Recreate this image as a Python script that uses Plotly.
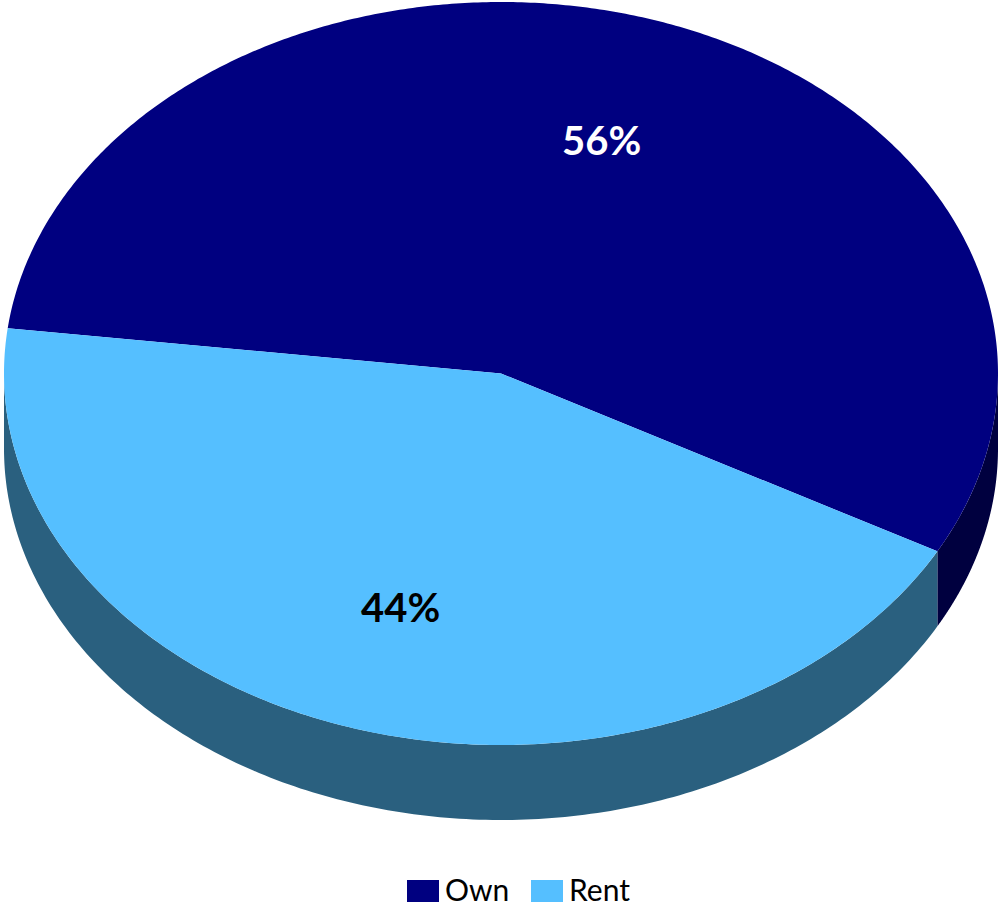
import numpy as np
import plotly.graph_objects as go

# ---- data ----
labels = ["Own", "Rent"]
values = [56, 44]
top_colors = ["#000080", "#55BFFF"]
side_colors = ["#00003F", "#2A607F"]
label_colors = ["white", "black"]

# ---- geometry (pixel-like axis units) ----
W, H = 999, 908
CX, CY = 501.0, 373.5
RX, RY = 497.0, 371.5
DEPTH = 75.0
START = 173.0  # degrees, ellipse parameter angle where the first slice starts
LABEL_R = 0.66
LEG_Y = 891.0
LEG_SWATCH_X = [407, 531]
LEG_SW_W, LEG_SW_H = 32, 22


def pt(t_deg, dy=0.0):
    t = np.radians(t_deg)
    return CX + RX * np.cos(t), CY - RY * np.sin(t) + dy


fig = go.Figure()
total = float(sum(values))
spans = []
a = START
for v in values:
    sweep = v / total * 360.0
    spans.append((a, a - sweep))  # clockwise
    a -= sweep

# side walls (visible front half: parameter angle in [-180, 0])
for (a0, a1), sc in zip(spans, side_colors):
    lo, hi = a1, a0
    segs = []
    for shift in (-360, 0, 360):
        l = max(lo + shift, -180)
        h = min(hi + shift, 0)
        if h > l:
            segs.append((l, h))
    for l, h in segs:
        ts = np.linspace(h, l, 200)
        xs_top, ys_top = pt(ts)
        xs_bot, ys_bot = pt(ts[::-1], DEPTH)
        xs = np.concatenate([xs_top, xs_bot, xs_top[:1]])
        ys = np.concatenate([ys_top, ys_bot, ys_top[:1]])
        fig.add_trace(go.Scatter(x=xs, y=ys, mode="none", fill="toself",
                                 fillcolor=sc, hoverinfo="skip",
                                 showlegend=False))

# top faces
for (a0, a1), lab, tc in zip(spans, labels, top_colors):
    ts = np.linspace(a0, a1, 400)
    xs, ys = pt(ts)
    xs = np.concatenate([[CX], xs, [CX]])
    ys = np.concatenate([[CY], ys, [CY]])
    fig.add_trace(go.Scatter(x=xs, y=ys, mode="none", fill="toself",
                             fillcolor=tc, name=lab, hoverinfo="name",
                             showlegend=False))

# percentage labels
for (a0, a1), v, lc in zip(spans, values, label_colors):
    mid = np.radians((a0 + a1) / 2.0)
    x = CX + LABEL_R * RX * np.cos(mid)
    y = CY - LABEL_R * RY * np.sin(mid)
    fig.add_annotation(x=x, y=y, text=f"<b>{round(v / total * 100)}%</b>",
                       showarrow=False,
                       font=dict(family="Lato", size=40, color=lc))

# legend (swatches + text)
for lab, tc, sx in zip(labels, top_colors, LEG_SWATCH_X):
    fig.add_shape(type="rect", x0=sx, x1=sx + LEG_SW_W,
                  y0=LEG_Y - LEG_SW_H / 2, y1=LEG_Y + LEG_SW_H / 2,
                  fillcolor=tc, line=dict(width=0), layer="above")
    fig.add_annotation(x=sx + LEG_SW_W + 5, y=H - 0.5, text=lab,
                       showarrow=False, xanchor="left", yanchor="bottom",
                       borderpad=0,
                       font=dict(family="Lato", size=30, color="black"))

fig.update_layout(
    width=W, height=H,
    margin=dict(l=0, r=0, t=0, b=0, autoexpand=False),
    paper_bgcolor="white", plot_bgcolor="white",
    xaxis=dict(range=[0, W], visible=False, fixedrange=True),
    yaxis=dict(range=[H, 0], visible=False, fixedrange=True),
    showlegend=False,
    font=dict(family="Lato"),
)

fig.write_html(
    "out.html",
    config={"displayModeBar": False},
    post_script="document.body.style.margin='0';document.body.style.overflow='hidden';",
)
